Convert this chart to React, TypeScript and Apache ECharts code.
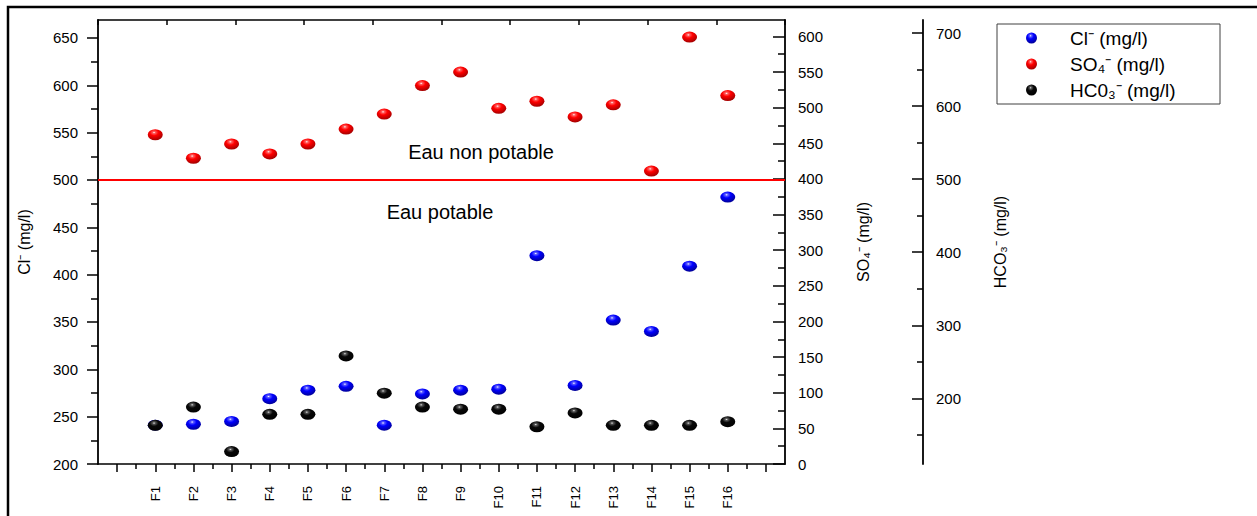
import React, { useEffect, useRef } from 'react';
import * as echarts from 'echarts';

// ---- data ----
const categories = ['F1', 'F2', 'F3', 'F4', 'F5', 'F6', 'F7', 'F8', 'F9', 'F10', 'F11', 'F12', 'F13', 'F14', 'F15', 'F16'];
const clValues = [241, 242, 245, 269, 278, 282, 241, 274, 278, 279, 420, 283, 352, 340, 409, 482];
const so4Values = [462, 429, 449, 435, 449, 470, 491, 531, 550, 499, 509, 487, 504, 411, 599, 517];
const hco3Values = [163, 188, 127, 178, 178, 258, 207, 188, 185, 185, 161, 180, 163, 163, 163, 168];

const clMajorTicks = [200, 250, 300, 350, 400, 450, 500, 550, 600, 650];
const clMinorTicks = [225, 275, 325, 375, 425, 475, 525, 575, 625];
const so4MajorTicks = [0, 50, 100, 150, 200, 250, 300, 350, 400, 450, 500, 550, 600];
const so4MinorTicks = [25, 75, 125, 175, 225, 275, 325, 375, 425, 475, 525, 575];
const hco3MajorTicks = [200, 300, 400, 500, 600, 700];
const hco3MinorTicks = [150, 250, 350, 450, 550, 650];
const xMajorTicks = [0, 1, 2, 3, 4, 5, 6, 7, 8, 9, 10, 11, 12, 13, 14, 15, 16, 17];
const xMinorTicks = [0.5, 1.5, 2.5, 3.5, 4.5, 5.5, 6.5, 7.5, 8.5, 9.5, 10.5, 11.5, 12.5, 13.5, 14.5, 15.5, 16.5];
const xLabelPositions = categories.map((_, i) => i + 1);
const limitValue = 500;

const seriesNames = ['Cl\u207B (mg/l)', 'SO\u2084\u207B (mg/l)', 'HC0\u2083\u207B (mg/l)'];
const axisNames = ['Cl\u207B (mg/l)', 'SO\u2084\u207B (mg/l)', 'HCO\u2083\u207B (mg/l)'];

const FONT = '"Liberation Sans", Arial, Helvetica, sans-serif';
const BALL = 'path://M0,50 A50,50 0 1,1 100,50 A50,50 0 1,1 0,50 Z';

function ball(stops: string[]) {
  return new echarts.graphic.RadialGradient(0.42, 0.3, 0.75, [
    { offset: 0, color: stops[0] },
    { offset: 0.12, color: stops[1] },
    { offset: 0.38, color: stops[2] },
    { offset: 1, color: stops[3] },
  ]);
}

const axisLineStyle = (w: number) => ({ show: true, onZero: false, lineStyle: { color: '#000', width: w } });

function yPair(opts: {
  min: number; max: number; position: 'left' | 'right'; offset: number; inside: boolean;
  major: number[]; minor: number[]; majorLen: number; minorLen: number; name: string;
  nameGap: number; labelMargin: number;
}) {
  return [
    {
      type: 'value', position: opts.position, offset: opts.offset, min: opts.min, max: opts.max, interval: 50,
      name: opts.name, nameLocation: 'middle', nameGap: opts.nameGap,
      nameTextStyle: { fontSize: 16, color: '#000', fontFamily: FONT },
      axisLine: axisLineStyle(1.8),
      axisTick: { show: true, inside: opts.inside, length: opts.majorLen, customValues: opts.major, lineStyle: { color: '#000', width: 1.5 } },
      axisLabel: { show: true, customValues: opts.major, margin: opts.labelMargin, fontSize: 15, color: '#000', fontFamily: FONT },
      splitLine: { show: false },
    },
    {
      type: 'value', position: opts.position, offset: opts.offset, min: opts.min, max: opts.max, interval: 50,
      axisLine: { show: false, onZero: false },
      axisTick: { show: true, inside: opts.inside, length: opts.minorLen, customValues: opts.minor, lineStyle: { color: '#000', width: 1.5 } },
      axisLabel: { show: false },
      splitLine: { show: false },
    },
  ];
}

export default function App() {
  const ref = useRef<HTMLDivElement>(null);

  useEffect(() => {
    document.body.style.margin = '0';
    if (!ref.current) return;
    const chart = echarts.init(ref.current, undefined, { renderer: 'svg' });

    const yAxes = [
      ...yPair({ min: 200, max: 669, position: 'left', offset: 0, inside: false, major: clMajorTicks, minor: clMinorTicks, majorLen: 11, minorLen: 7, name: axisNames[0], nameGap: 66, labelMargin: 20 }),
      ...yPair({ min: 0, max: 623, position: 'right', offset: 0, inside: true, major: so4MajorTicks, minor: so4MinorTicks, majorLen: 12, minorLen: 7, name: axisNames[1], nameGap: 70, labelMargin: 13 }),
      ...yPair({ min: 110, max: 718, position: 'right', offset: 138, inside: true, major: hco3MajorTicks, minor: hco3MinorTicks, majorLen: 11, minorLen: 6, name: axisNames[2], nameGap: 69, labelMargin: 13 }),
    ];

    const option: any = {
      animation: false,
      textStyle: { fontFamily: FONT },
      grid: { left: 98, top: 20, right: 472, bottom: 52, containLabel: false, outerBoundsMode: 'none' },
      legend: {
        orient: 'vertical', left: 1026, top: 28, padding: 0, itemGap: 6,
        itemWidth: 15, itemHeight: 11, selectedMode: false, icon: BALL,
        data: seriesNames,
        textStyle: { fontSize: 19, color: '#000', fontFamily: FONT, lineHeight: 20, padding: [0, 0, 0, 26] },
      },
      xAxis: [
        {
          type: 'value', position: 'bottom', min: -0.5, max: 17.5,
          axisLine: axisLineStyle(1.5),
          axisTick: { show: true, inside: false, length: 8, customValues: xMajorTicks, lineStyle: { color: '#000', width: 1.5 } },
          axisLabel: {
            show: true, customValues: xLabelPositions, rotate: 90, margin: 22, fontSize: 13, color: '#000', fontFamily: FONT,
            formatter: (v: number) => categories[Math.round(v) - 1] ?? '',
          },
          splitLine: { show: false },
        },
        {
          type: 'value', position: 'bottom', min: -0.5, max: 17.5,
          axisLine: { show: false, onZero: false },
          axisTick: { show: true, inside: false, length: 5, customValues: xMinorTicks, lineStyle: { color: '#000', width: 1.5 } },
          axisLabel: { show: false },
          splitLine: { show: false },
        },
        {
          type: 'value', position: 'top', min: 0, max: 10, interval: 1,
          axisLine: axisLineStyle(1.5),
          axisTick: { show: true, inside: true, length: 5, lineStyle: { color: '#000', width: 1.5 } },
          axisLabel: { show: false },
          splitLine: { show: false },
        },
      ],
      yAxis: yAxes,
      series: [
        {
          name: seriesNames[0], type: 'scatter', xAxisIndex: 0, yAxisIndex: 0,
          symbol: BALL, symbolSize: [15, 11],
          itemStyle: { opacity: 1, color: ball(['#ffffff', '#6060ff', '#0000ff', '#00008a']) },
          data: clValues.map((v, i) => [i + 1, v]),
          markLine: {
            silent: true, symbol: 'none', label: { show: false },
            lineStyle: { color: '#ff0000', width: 2, type: 'solid' },
            data: [{ yAxis: limitValue }],
          },
          z: 3,
        },
        {
          name: seriesNames[1], type: 'scatter', xAxisIndex: 0, yAxisIndex: 2,
          symbol: BALL, symbolSize: [15, 11],
          itemStyle: { opacity: 1, color: ball(['#ffffff', '#ff6060', '#ff0000', '#960000']) },
          data: so4Values.map((v, i) => [i + 1, v]),
          z: 4,
        },
        {
          name: seriesNames[2], type: 'scatter', xAxisIndex: 0, yAxisIndex: 4,
          symbol: BALL, symbolSize: [15, 11],
          itemStyle: { opacity: 1, color: ball(['#e8e8e8', '#5a5a5a', '#080808', '#000000']) },
          data: hco3Values.map((v, i) => [i + 1, v]),
          z: 5,
        },
      ],
      graphic: [
        { type: 'rect', silent: true, shape: { x: 8, y: 7, width: 1300, height: 600 }, style: { fill: 'none', stroke: '#000', lineWidth: 2.5 } },
        { type: 'rect', silent: true, shape: { x: 997, y: 24, width: 223, height: 80 }, style: { fill: 'none', stroke: '#404040', lineWidth: 1 } },
        { type: 'text', silent: true, x: 481, y: 152, style: { text: 'Eau non potable', fontSize: 20, fontFamily: FONT, fill: '#000', align: 'center', verticalAlign: 'middle' } },
        { type: 'text', silent: true, x: 440, y: 212, style: { text: 'Eau potable', fontSize: 20, fontFamily: FONT, fill: '#000', align: 'center', verticalAlign: 'middle' } },
      ],
    };

    chart.setOption(option);
    return () => chart.dispose();
  }, []);

  return <div ref={ref} style={{ width: 1257, height: 516 }} />;
}
